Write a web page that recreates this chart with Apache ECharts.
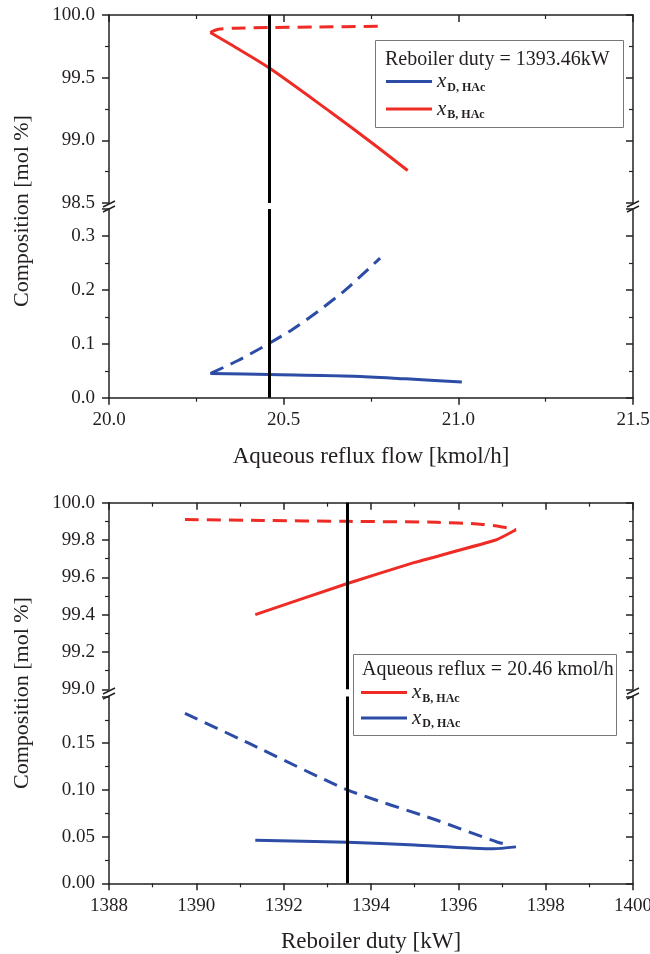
<!DOCTYPE html>
<html><head><meta charset="utf-8">
<script src="https://cdn.jsdelivr.net/npm/echarts@6/dist/echarts.min.js"></script>
<style>html,body{margin:0;padding:0;background:#fff}#c{width:650px;height:954px}</style>
</head><body><div id="c"></div>
<script>
// ---------- Panel (a): composition vs aqueous reflux flow ----------
const refluxRef = 20.46;
const a_xTicks = { min: 20.0, max: 21.5, interval: 0.5 };
const a_xB_solid_x = [20.29, 20.35, 20.46, 20.635, 20.754, 20.855];
const a_xB_solid_y = [99.86, 99.762, 99.575, 99.224, 98.977, 98.759];
const a_xB_dash_x  = [20.29, 20.31, 20.36, 20.46, 20.60, 20.776];
const a_xB_dash_y  = [99.86, 99.885, 99.895, 99.90, 99.905, 99.91];
const a_xD_solid_x = [20.29, 20.46, 20.70, 20.85, 21.01];
const a_xD_solid_y = [0.045, 0.043, 0.040, 0.035, 0.029];
const a_xD_dash_x  = [20.291, 20.368, 20.44, 20.523, 20.60, 20.677, 20.757, 20.776];
const a_xD_dash_y  = [0.045, 0.0686, 0.094, 0.1256, 0.161, 0.200, 0.2475, 0.259];

// ---------- Panel (b): composition vs reboiler duty ----------
const dutyRef = 1393.46;
const b_xB_solid_x = [1391.35, 1393.46, 1395.0, 1396.86, 1397.32];
const b_xB_solid_y = [99.40, 99.567, 99.68, 99.80, 99.855];
const b_xB_dash_x  = [1389.74, 1391.5, 1393.46, 1395.5, 1396.5, 1397.0, 1397.32];
const b_xB_dash_y  = [99.91, 99.905, 99.90, 99.895, 99.885, 99.87, 99.855];
const b_xD_solid_x = [1391.35, 1393.46, 1395.0, 1396.8, 1397.32];
const b_xD_solid_y = [0.046, 0.044, 0.041, 0.037, 0.039];
const b_xD_dash_x  = [1389.74, 1391.2, 1393.46, 1395.48, 1396.9, 1397.2];
const b_xD_dash_y  = [0.182, 0.150, 0.100, 0.068, 0.044, 0.041];

const legendTitleA = 'Reboiler duty = 1393.46kW';
const legendTitleB = 'Aqueous reflux = 20.46 kmol/h';
const xNameA = 'Aqueous reflux flow [kmol/h]';
const xNameB = 'Reboiler duty [kW]';
const yName = 'Composition [mol %]';

const FONT = '"Liberation Serif","Times New Roman",serif';
const AX = '#222';
const TXT = '#231f20';
const RED = '#ee2b24';
const BLUE = '#2c4ca6';

const pairs = (xs, ys) => xs.map((v, i) => [v, ys[i]]);

function xHidden(gi, t) {
  return { gridIndex: gi, type: 'value', min: t.min, max: t.max, interval: t.interval, show: false };
}
function xTop(gi, t) {
  return { gridIndex: gi, type: 'value', position: 'top', min: t.min, max: t.max, interval: t.interval,
    axisLine: { show: true, onZero: false, lineStyle: { color: AX, width: 1.5 } },
    axisTick: { show: true, inside: true, length: 7, lineStyle: { color: AX, width: 1.5 } },
    minorTick: { show: true, splitNumber: 2, length: 4, lineStyle: { color: AX, width: 1.2 } },
    splitLine: { show: false }, axisLabel: { show: false } };
}
function xBottom(gi, t, dec, name, gap) {
  return { gridIndex: gi, type: 'value', position: 'bottom', min: t.min, max: t.max, interval: t.interval,
    axisLine: { show: true, onZero: false, lineStyle: { color: AX, width: 1.5 } },
    axisTick: { show: true, inside: false, length: 7, lineStyle: { color: AX, width: 1.5 } },
    minorTick: { show: true, splitNumber: 2, length: 4, lineStyle: { color: AX, width: 1.2 } },
    splitLine: { show: false },
    axisLabel: { show: true, margin: 13, fontFamily: FONT, fontSize: 19, color: TXT, formatter: v => v.toFixed(dec) },
    name: name, nameLocation: 'middle', nameGap: gap,
    nameTextStyle: { fontFamily: FONT, fontSize: 23, color: TXT } };
}
function yLeft(gi, min, max, interval, dec, hideMax) {
  return { gridIndex: gi, type: 'value', position: 'left', min, max, interval,
    axisLine: { show: true, onZero: false, lineStyle: { color: AX, width: 1.5 } },
    axisTick: { show: true, inside: false, length: 7, lineStyle: { color: AX, width: 1.5 } },
    minorTick: { show: true, splitNumber: 2, length: 4, lineStyle: { color: AX, width: 1.2 } },
    splitLine: { show: false },
    axisLabel: { show: true, margin: 14, fontFamily: FONT, fontSize: 19, color: TXT,
      showMaxLabel: !hideMax, formatter: v => v.toFixed(dec) } };
}
function yRight(gi, min, max, interval) {
  return { gridIndex: gi, type: 'value', position: 'right', min, max, interval,
    axisLine: { show: true, onZero: false, lineStyle: { color: AX, width: 1.5 } },
    axisTick: { show: true, inside: true, length: 7, lineStyle: { color: AX, width: 1.5 } },
    minorTick: { show: true, splitNumber: 2, length: 4, lineStyle: { color: AX, width: 1.2 } },
    splitLine: { show: false }, axisLabel: { show: false } };
}
function line(name, xi, yi, data, color, dashed, smooth, refX) {
  const s = { name, type: 'line', xAxisIndex: xi, yAxisIndex: yi, data, symbol: 'none', showSymbol: false,
    smooth: smooth || false,
    itemStyle: { color }, lineStyle: { color, width: 3, type: dashed ? [14, 8] : 'solid' }, z: 3 };
  if (refX !== undefined) {
    s.markLine = { silent: true, symbol: 'none', label: { show: false },
      lineStyle: { color: '#000', width: 3, type: 'solid' }, data: [{ xAxis: refX }] };
  }
  return s;
}

const b_xTicks = { min: 1388, max: 1400, interval: 2 };

const grids = [
  { left: 109, width: 524, top: 15, height: 188 },
  { left: 109, width: 524, top: 209.05, height: 188.65 },
  { left: 109, width: 524, top: 502.7, height: 186.6 },
  { left: 109, width: 524, top: 696.5, height: 186.8 }
].map(g => Object.assign({ outerBoundsMode: 'none' }, g));

const xAxes = [
  xHidden(0, a_xTicks), xTop(0, a_xTicks), xBottom(1, a_xTicks, 1, xNameA, 48),
  xHidden(2, b_xTicks), xTop(2, b_xTicks), xBottom(3, b_xTicks, 0, xNameB, 47)
];
const yAxes = [
  yLeft(0, 98.5, 100, 0.5, 1, false), yRight(0, 98.5, 100, 0.5),
  yLeft(1, 0, 0.35, 0.1, 1, true), yRight(1, 0, 0.35, 0.1),
  yLeft(2, 99, 100, 0.2, 1, false), yRight(2, 99, 100, 0.2),
  yLeft(3, 0, 0.2, 0.05, 2, true), yRight(3, 0, 0.2, 0.05)
];

const series = [
  line('xB1', 0, 0, pairs(a_xB_solid_x, a_xB_solid_y), RED, false, 0.3, refluxRef),
  line('xB1d', 0, 0, pairs(a_xB_dash_x, a_xB_dash_y), RED, true, 0.3),
  line('xD1', 2, 2, pairs(a_xD_solid_x, a_xD_solid_y), BLUE, false, 0.3, refluxRef),
  line('xD1d', 2, 2, pairs(a_xD_dash_x, a_xD_dash_y), BLUE, true, 0.2),
  line('xB2', 3, 4, pairs(b_xB_solid_x, b_xB_solid_y), RED, false, 0.1, dutyRef),
  line('xB2d', 3, 4, pairs(b_xB_dash_x, b_xB_dash_y), RED, true, 0.3),
  line('xD2', 5, 6, pairs(b_xD_solid_x, b_xD_solid_y), BLUE, false, 0.2, dutyRef),
  line('xD2d', 5, 6, pairs(b_xD_dash_x, b_xD_dash_y), BLUE, true, 0.2)
];

const rich = {
  i: { fontFamily: FONT, fontStyle: 'italic', fontSize: 21, color: TXT, lineHeight: 24, verticalAlign: 'middle' },
  s: { fontFamily: FONT, fontWeight: 'bold', fontSize: 12, color: TXT, lineHeight: 12, verticalAlign: 'bottom', padding: [0, 0, 0, 1] }
};
const legFmt = n => '{i|x}{s|' + (n.startsWith('xD') ? 'D, HAc' : 'B, HAc') + '}';
const legends = [
  { orient: 'vertical', left: 386, top: 71, itemWidth: 46, itemHeight: 3, icon: 'rect', itemGap: 5,
    data: ['xD1', 'xB1'], formatter: legFmt, textStyle: { rich }, selectedMode: false, z: 10, padding: 0 },
  { orient: 'vertical', left: 361, top: 682, itemWidth: 46, itemHeight: 3, icon: 'rect', itemGap: 3,
    data: ['xB2', 'xD2'], formatter: legFmt, textStyle: { rich }, selectedMode: false, z: 10, padding: 0 }
];

function breakMarks(x, y) {
  return [
    { type: 'line', z: 20, shape: { x1: x - 6, y1: y + 1, x2: x + 6, y2: y - 5 }, style: { stroke: AX, lineWidth: 1.5 } },
    { type: 'line', z: 20, shape: { x1: x - 6, y1: y + 6, x2: x + 6, y2: y }, style: { stroke: AX, lineWidth: 1.5 } }
  ];
}

const graphic = [
  { type: 'text', x: 22, y: 211, rotation: Math.PI / 2,
    style: { text: yName, font: '22px ' + FONT, fill: TXT, align: 'center', verticalAlign: 'middle' } },
  { type: 'text', x: 22, y: 693, rotation: Math.PI / 2,
    style: { text: yName, font: '22px ' + FONT, fill: TXT, align: 'center', verticalAlign: 'middle' } },
  { type: 'rect', z: 5, shape: { x: 375.5, y: 40.5, width: 248, height: 87 },
    style: { fill: '#fff', stroke: '#777', lineWidth: 1 } },
  { type: 'text', z: 6, x: 385, y: 60,
    style: { text: legendTitleA, font: '20px ' + FONT, fill: TXT, align: 'left', verticalAlign: 'middle' } },
  { type: 'rect', z: 5, shape: { x: 353.5, y: 654.5, width: 263, height: 81 },
    style: { fill: '#fff', stroke: '#777', lineWidth: 1 } },
  { type: 'text', z: 6, x: 362, y: 670,
    style: { text: legendTitleB, font: '20px ' + FONT, fill: TXT, align: 'left', verticalAlign: 'middle' } }
].concat(breakMarks(109, 206), breakMarks(633, 206), breakMarks(109, 693), breakMarks(633, 693));

const chart = echarts.init(document.getElementById('c'), null, { renderer: 'canvas' });
chart.setOption({
  animation: false,
  backgroundColor: '#fff',
  grid: grids,
  xAxis: xAxes,
  yAxis: yAxes,
  legend: legends,
  series: series,
  graphic: graphic
});
</script>
</body></html>
